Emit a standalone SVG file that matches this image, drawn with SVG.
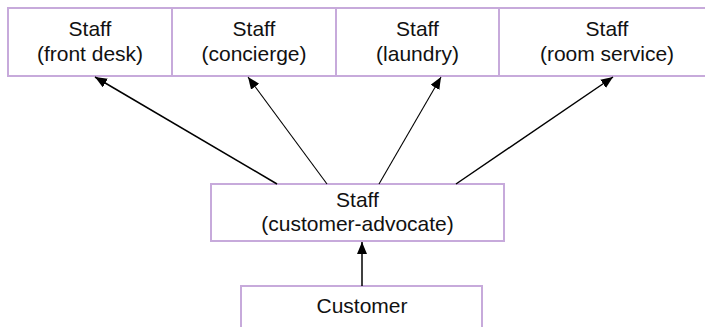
<svg xmlns="http://www.w3.org/2000/svg" width="705" height="327" viewBox="0 0 705 327">
  <style>
    .box { fill: #ffffff; stroke: #c7aadb; stroke-width: 2; }
    .lbl { font-family: "Liberation Sans", Arial, sans-serif; font-size: 21px; fill: #111111; text-anchor: middle; }
    .edge { stroke: #000000; stroke-width: 1.5; fill: none; marker-end: url(#arrow); }
    .thin { stroke-width: 1.1; }
  </style>
  <defs>
    <marker id="arrow" markerUnits="userSpaceOnUse" markerWidth="13" markerHeight="11" refX="12" refY="5" orient="auto">
      <path d="M0,0 L12,5 L0,10 z" fill="#000000"/>
    </marker>
  </defs>

  <g id="staff-front-desk">
    <rect class="box" x="8" y="8" width="164" height="68"/>
    <text class="lbl" x="90" y="36">Staff</text>
    <text class="lbl" x="90" y="61">(front desk)</text>
  </g>
  <g id="staff-concierge">
    <rect class="box" x="172" y="8" width="164" height="68"/>
    <text class="lbl" x="254" y="36">Staff</text>
    <text class="lbl" x="254" y="61">(concierge)</text>
  </g>
  <g id="staff-laundry">
    <rect class="box" x="336" y="8" width="163" height="68"/>
    <text class="lbl" x="417.5" y="36">Staff</text>
    <text class="lbl" x="417.5" y="61">(laundry)</text>
  </g>
  <g id="staff-room-service">
    <rect class="box" x="499" y="8" width="216" height="68"/>
    <text class="lbl" x="607" y="36">Staff</text>
    <text class="lbl" x="607" y="61">(room service)</text>
  </g>
  <g id="staff-customer-advocate">
    <rect class="box" x="211" y="184" width="293" height="57"/>
    <text class="lbl" x="357.5" y="207">Staff</text>
    <text class="lbl" x="357.5" y="231">(customer-advocate)</text>
  </g>
  <g id="customer">
    <rect class="box" x="241" y="286" width="241" height="50"/>
    <text class="lbl" x="362" y="313">Customer</text>
  </g>

  <g id="connectors">
    <line class="edge" x1="277" y1="184" x2="95" y2="77"/>
    <line class="edge thin" x1="327" y1="184" x2="248" y2="77"/>
    <line class="edge thin" x1="379" y1="184" x2="441" y2="77"/>
    <line class="edge" x1="456" y1="184" x2="613" y2="77"/>
    <line class="edge" x1="362" y1="286" x2="362" y2="242"/>
  </g>
</svg>
